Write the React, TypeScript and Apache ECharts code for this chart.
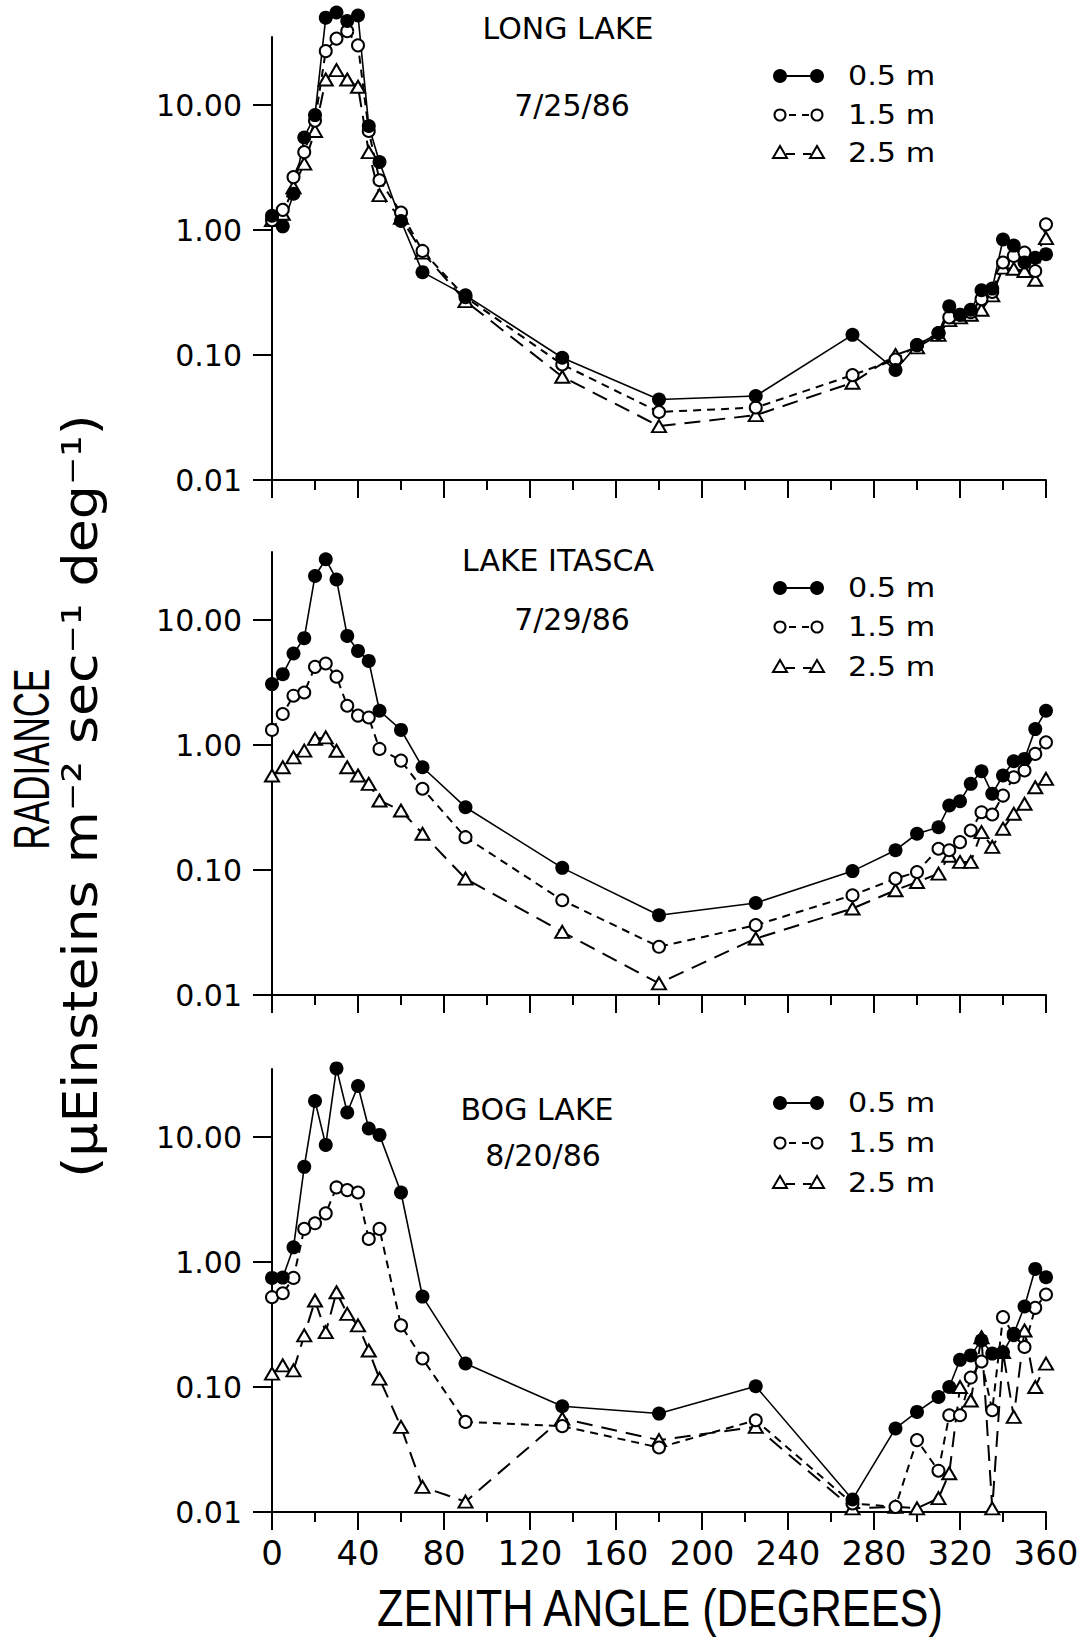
import React, { useEffect, useRef } from "react";
import * as echarts from "echarts";

// ---------- data ----------
const angles = [0, 5, 10, 15, 20, 25, 30, 35, 40, 45, 50, 60, 70, 90, 135, 180, 225, 270, 290, 300, 310, 315, 320, 325, 330, 335, 340, 345, 350, 355, 360];

const longLake05 = [1.3, 1.07, 1.95, 5.5, 8.3, 50, 55, 47, 52, 6.8, 3.5, 1.18, 0.46, 0.30, 0.095, 0.044, 0.047, 0.145, 0.076, 0.12, 0.15, 0.245, 0.21, 0.23, 0.33, 0.34, 0.84, 0.75, 0.55, 0.60, 0.64];
const longLake15 = [1.2, 1.45, 2.65, 4.2, 7.5, 27, 34, 39, 30, 6.2, 2.5, 1.38, 0.68, 0.29, 0.084, 0.035, 0.038, 0.069, 0.092, 0.12, 0.15, 0.2, 0.21, 0.22, 0.28, 0.32, 0.55, 0.62, 0.66, 0.47, 1.11];
const longLake25 = [1.2, 1.35, 2.2, 3.4, 6.2, 16, 19, 16, 14, 4.2, 1.9, 1.25, 0.66, 0.27, 0.067, 0.027, 0.033, 0.06, 0.10, 0.115, 0.145, 0.19, 0.2, 0.21, 0.23, 0.30, 0.50, 0.49, 0.47, 0.40, 0.86];

const itasca05 = [3.07, 3.69, 5.39, 7.16, 22.5, 30.6, 21.1, 7.46, 5.66, 4.71, 1.88, 1.32, 0.664, 0.318, 0.104, 0.0435, 0.0545, 0.098, 0.144, 0.195, 0.22, 0.328, 0.355, 0.489, 0.617, 0.407, 0.57, 0.741, 0.774, 1.34, 1.88];
const itasca15 = [1.32, 1.77, 2.48, 2.63, 4.22, 4.49, 3.52, 2.06, 1.72, 1.66, 0.93, 0.75, 0.447, 0.183, 0.0573, 0.0243, 0.0362, 0.0628, 0.0853, 0.0964, 0.148, 0.144, 0.167, 0.207, 0.29, 0.278, 0.394, 0.552, 0.625, 0.849, 1.05];
const itasca25 = [0.57, 0.664, 0.797, 0.902, 1.12, 1.15, 0.9, 0.664, 0.57, 0.489, 0.36, 0.299, 0.195, 0.0853, 0.032, 0.0124, 0.0283, 0.0492, 0.0689, 0.0802, 0.0935, 0.13, 0.116, 0.116, 0.201, 0.153, 0.214, 0.282, 0.339, 0.459, 0.536];

const bog05 = [0.746, 0.75, 1.31, 5.77, 19.4, 8.65, 35.4, 15.7, 25.6, 11.7, 10.4, 3.6, 0.529, 0.154, 0.0701, 0.0613, 0.1013, 0.0126, 0.0466, 0.0632, 0.0832, 0.1, 0.165, 0.179, 0.236, 0.185, 0.19, 0.267, 0.441, 0.881, 0.755];
const bog15 = [0.523, 0.562, 0.746, 1.84, 2.04, 2.45, 3.95, 3.76, 3.6, 1.53, 1.84, 0.311, 0.169, 0.0526, 0.0486, 0.0328, 0.0542, 0.0117, 0.011, 0.0376, 0.0214, 0.0594, 0.0594, 0.119, 0.16, 0.0652, 0.362, 0.26, 0.209, 0.43, 0.55];
const bog25 = [0.128, 0.149, 0.136, 0.259, 0.492, 0.275, 0.573, 0.385, 0.311, 0.196, 0.1167, 0.048, 0.0159, 0.0121, 0.056, 0.0376, 0.048, 0.0107, 0.011, 0.0107, 0.0129, 0.0204, 0.1, 0.078, 0.25, 0.0107, 0.19, 0.0577, 0.283, 0.1, 0.154];

const yTickValues = [0.01, 0.1, 1, 10];
const depthLabels = ["0.5 m", "1.5 m", "2.5 m"];
const lakeNames = ["LONG LAKE", "LAKE ITASCA", "BOG LAKE"];
const lakeDates = ["7/25/86", "7/29/86", "8/20/86"];
const panelData = [
  [longLake05, longLake15, longLake25],
  [itasca05, itasca15, itasca25],
  [bog05, bog15, bog25],
];

// ---------- layout ----------
const GRID_LEFT = 272;
const GRID_WIDTH = 774;
const GRID_HEIGHT = 443;
const gridTops = [37, 552, 1069];
const titlePos = [
  { name: [568, 28], date: [572, 105] },
  { name: [558, 560], date: [572, 619] },
  { name: [537, 1109], date: [543, 1155] },
];
const legendRows = [
  [76, 115, 153],
  [588, 627, 667],
  [1103, 1143, 1183],
];
const NUM_FONT = "DejaVu Sans";
const COND_FONT = "Liberation Sans";

function txt(x: number, y: number, text: string, fontSize: number, fontFamily: string, align = "center", extra: any = {}) {
  return {
    type: "text",
    x,
    y,
    silent: true,
    ...extra,
    style: {
      text,
      fontSize,
      fontFamily,
      fill: "#000",
      align,
      verticalAlign: "middle",
      textAlign: align,
      textVerticalAlign: "middle",
    },
  };
}

function legendGraphics(rows: number[]) {
  const g: any[] = [];
  const xl = 780;
  const xr = 817;
  // 0.5 m
  g.push({ type: "line", silent: true, shape: { x1: xl, y1: rows[0], x2: xr, y2: rows[0] }, style: { stroke: "#000", lineWidth: 2 } });
  g.push({ type: "circle", silent: true, shape: { cx: xl, cy: rows[0], r: 7 }, style: { fill: "#000" } });
  g.push({ type: "circle", silent: true, shape: { cx: xr, cy: rows[0], r: 7 }, style: { fill: "#000" } });
  // 1.5 m
  g.push({ type: "line", silent: true, shape: { x1: xl + 9, y1: rows[1], x2: xr - 8, y2: rows[1] }, style: { stroke: "#000", lineWidth: 2, lineDash: [7, 6] } });
  g.push({ type: "circle", silent: true, shape: { cx: xl, cy: rows[1], r: 5.5 }, style: { fill: "#fff", stroke: "#000", lineWidth: 2 } });
  g.push({ type: "circle", silent: true, shape: { cx: xr, cy: rows[1], r: 5.5 }, style: { fill: "#fff", stroke: "#000", lineWidth: 2 } });
  // 2.5 m
  g.push({ type: "line", silent: true, shape: { x1: xl + 6, y1: rows[2] + 1, x2: xr - 6, y2: rows[2] + 1 }, style: { stroke: "#000", lineWidth: 2, lineDash: [9, 8] } });
  [xl, xr].forEach((cx) => {
    const cy = rows[2];
    g.push({
      type: "polygon",
      silent: true,
      shape: { points: [[cx - 7, cy + 5], [cx + 7, cy + 5], [cx, cy - 7]] },
      style: { fill: "#fff", stroke: "#000", lineWidth: 2 },
    });
  });
  rows.forEach((y, k) => g.push(txt(848, y, depthLabels[k], 27, NUM_FONT, "left", { scaleX: 1.12 })));
  return g;
}

function buildOption() {
  const grid: any[] = [];
  const xAxis: any[] = [];
  const yAxis: any[] = [];
  const series: any[] = [];
  const graphic: any[] = [];

  panelData.forEach((sets, i) => {
    grid.push({ left: GRID_LEFT, top: gridTops[i], width: GRID_WIDTH, height: GRID_HEIGHT, containLabel: false });
    xAxis.push({
      type: "value",
      gridIndex: i,
      min: 0,
      max: 360,
      interval: 40,
      axisLine: { show: true, onZero: false, lineStyle: { color: "#000", width: 2 } },
      axisTick: { show: true, length: 18, lineStyle: { color: "#000", width: 2 } },
      minorTick: { show: true, splitNumber: 2, length: 10, lineStyle: { color: "#000", width: 2 } },
      splitLine: { show: false },
      minorSplitLine: { show: false },
      axisLabel: { show: i === 2, margin: 24, color: "#000", fontFamily: NUM_FONT, fontSize: 34 },
    });
    yAxis.push({
      type: "log",
      logBase: 10,
      gridIndex: i,
      min: 0.01,
      max: 35,
      axisLine: { show: true, onZero: false, lineStyle: { color: "#000", width: 2 } },
      axisTick: { show: true, length: 19, customValues: yTickValues, lineStyle: { color: "#000", width: 2 } },
      axisLabel: {
        show: true,
        customValues: yTickValues,
        margin: 30,
        color: "#000",
        fontFamily: NUM_FONT,
        fontSize: 30,
        formatter: (v: number) => Number(v).toFixed(2),
      },
      splitLine: { show: false },
      minorTick: { show: false },
    });

    const [d05, d15, d25] = sets;
    series.push({
      name: depthLabels[2],
      type: "line",
      xAxisIndex: i,
      yAxisIndex: i,
      data: angles.map((a, k) => [a, d25[k]]),
      symbol: "emptyTriangle",
      symbolSize: [14, 12],
      itemStyle: { color: "#000", borderWidth: 2 },
      lineStyle: { color: "#000", width: 2, type: [16, 9] },
      clip: false,
      silent: true,
    });
    series.push({
      name: depthLabels[1],
      type: "line",
      xAxisIndex: i,
      yAxisIndex: i,
      data: angles.map((a, k) => [a, d15[k]]),
      symbol: "emptyCircle",
      symbolSize: 12,
      itemStyle: { color: "#000", borderWidth: 2 },
      lineStyle: { color: "#000", width: 2, type: [8, 6] },
      clip: false,
      silent: true,
    });
    series.push({
      name: depthLabels[0],
      type: "line",
      xAxisIndex: i,
      yAxisIndex: i,
      data: angles.map((a, k) => [a, d05[k]]),
      symbol: "circle",
      symbolSize: 14,
      itemStyle: { color: "#000" },
      lineStyle: { color: "#000", width: 1.6 },
      clip: false,
      silent: true,
    });

    graphic.push(txt(titlePos[i].name[0], titlePos[i].name[1], lakeNames[i], 30, NUM_FONT));
    graphic.push(txt(titlePos[i].date[0], titlePos[i].date[1], lakeDates[i], 30, NUM_FONT));
    graphic.push(...legendGraphics(legendRows[i]));
  });

  // axis titles
  graphic.push(txt(32, 759, "RADIANCE", 50, COND_FONT, "center", { rotation: Math.PI / 2, scaleX: 0.7 }));
  graphic.push(txt(81, 796, "(\u00b5Einsteins m\u207b\u00b2 sec\u207b\u00b9 deg\u207b\u00b9)", 48, NUM_FONT, "center", { rotation: Math.PI / 2, scaleX: 1.12 }));
  graphic.push(txt(660, 1608, "ZENITH ANGLE (DEGREES)", 51, COND_FONT, "center", { scaleX: 0.85 }));

  return {
    animation: false,
    backgroundColor: "#fff",
    grid,
    xAxis,
    yAxis,
    series,
    graphic,
  };
}

export default function App() {
  const ref = useRef<HTMLDivElement>(null);
  useEffect(() => {
    if (!ref.current) return;
    const chart = echarts.init(ref.current, undefined, { renderer: "svg" });
    chart.setOption(buildOption() as any);
    return () => chart.dispose();
  }, []);
  return <div ref={ref} style={{ position: "absolute", left: 0, top: 0, width: 1084, height: 1642, background: "#fff" }} />;
}
